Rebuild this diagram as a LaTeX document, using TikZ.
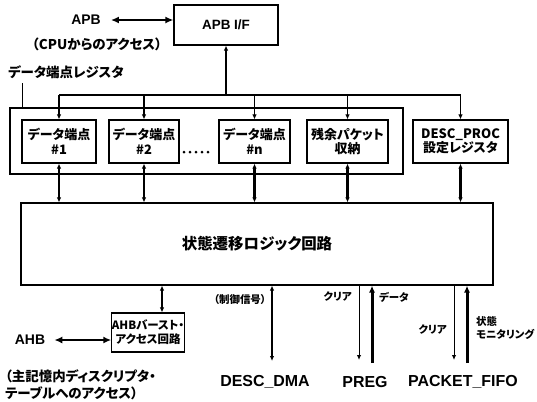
\documentclass[tikz,border=0pt]{standalone}
\usepackage{fontspec}
\usetikzlibrary{arrows.meta,calc}
\newfontfamily\jp{Noto Sans CJK JP}[RawFeature=+palt]
\newfontfamily\lat{Liberation Sans}
\tikzset{
  box/.style={draw, line width=1.2pt, fill=white, inner sep=1pt, align=center, font=\jp\bfseries\fontsize{13}{14.5}\selectfont},
  lbl/.style={inner sep=0pt, align=left, font=\jp\bfseries\fontsize{13.5}{18}\selectfont},
  sml/.style={inner sep=0pt, align=left, font=\jp\bfseries\fontsize{10.5}{14}\selectfont},
  big/.style={inner sep=0pt, font=\lat\bfseries\fontsize{16}{18}\selectfont},
  tip/.tip={Latex[length=5pt,width=4.5pt]},
  bigtip/.tip={Latex[length=8pt,width=7pt]},
  bus/.style={line width=1.8pt},
  bi/.style={line width=2.2pt, {tip}-{tip}},
  bibig/.style={line width=2.8pt, {bigtip}-{bigtip}},
  thin/.style={line width=1pt, -{tip}},
  thick/.style={line width=3pt, -{Latex[length=7pt,width=6pt]}},
}
\begin{document}
\begin{tikzpicture}[x=1bp,y=-1bp]
\useasboundingbox (0,0) rectangle (537,401);
% top
\node[box, minimum width=104bp, minimum height=40bp, font=\lat\bfseries\fontsize{13.5}{15}\selectfont] (apb) at (226,25) {APB I/F};
\node[lbl, font=\lat\bfseries\fontsize{14}{15}\selectfont] (apbt) at (86,20) {APB};
\draw[bibig] ($(apbt.east)+(10,0)$) -- (apbt.east -| apb.west);
\node[lbl] (cpu) at (97,44) {（CPUからのアクセス）};
\node[lbl] (regt) at (66,72) {データ端点レジスタ};
% register group
\node[draw, line width=1.2pt, minimum width=393bp, minimum height=66bp, inner sep=0pt] (regs) at (206.5,141) {};
\coordinate (tk) at (22,83);
\draw[line width=1pt] (tk) -- (tk |- regs.north);
\node[box, minimum width=74bp, minimum height=43bp] (d1) at (59,141.5) {データ端点\\\#1};
\node[box, minimum width=70bp, minimum height=43bp] (d2) at (144,141.5) {データ端点\\\#2};
\node[box, minimum width=71bp, minimum height=43bp] (dn) at (254.5,141.5) {データ端点\\\#n};
\node[box, minimum width=81bp, minimum height=43bp] (rp) at (347.5,141.5) {残余パケット\\収納};
\node[box, minimum width=95bp, minimum height=43bp] (dp) at (460.5,141.5) {DESC\_PROC\\設定レジスタ};
\foreach \x in {184,190,196,202,208} \fill (\x,152) circle (1.5bp);
% bus
\coordinate (busy) at (0,95);
\draw[bus, {tip}-] (apb.south) -- (apb.south |- busy);
\draw[bus] (d1.north |- busy) -- (dp.north |- busy);
\foreach \n in {d1,d2,dn,rp,dp} \draw[bus, -{tip}] (\n.north |- busy) -- (\n.north);
% logic
\node[box, minimum width=472bp, minimum height=82bp, font=\jp\bfseries\fontsize{15.5}{17}\selectfont] (lg) at (257,244) {状態遷移ロジック回路};
\foreach \n in {d1,d2,dn,rp,dp} \draw[bi] (\n.south) -- (\n.south |- lg.north);
% AHB
\node[box, minimum width=66bp, minimum height=39bp, inner sep=0pt, font=\jp\bfseries\fontsize{11.5}{14}\selectfont] (ahb) at (148,332.5) {AHBバースト・\\アクセス回路};
\coordinate (ax) at (162,0);
\draw[bi] (ax |- lg.south) -- (ax |- ahb.north);
\node[lbl, font=\lat\bfseries\fontsize{14}{15}\selectfont] (ahbt) at (30,340) {AHB};
\draw[bibig] ($(ahbt.east)+(9,0)$) -- (ahbt.east -| ahb.west);
\node[lbl, anchor=north west] (mem) at (5,369) {（主記憶内ディスクリプタ・\\テーブルへのアクセス）};
% bottom outputs
\node[big] (dma) at (265,382) {DESC\_DMA};
\node[big] (preg) at (365,382) {PREG};
\node[big] (fifo) at (463,382) {PACKET\_FIFO};
\coordinate (e1) at (272,361);
\draw[bi] (e1 |- lg.south) -- (e1);
\node[sml] (ctl) at (240,300) {（制御信号）};
\coordinate (e2) at (359,360);
\coordinate (e3) at (372,363);
\draw[thin] (e2 |- lg.south) -- (e2);
\draw[thick] (e3) -- (e3 |- lg.south);
\node[sml, anchor=east] (clr1) at (352,297) {クリア};
\node[sml, anchor=west] (dat) at (379,297) {データ};
\coordinate (e4) at (454,360);
\coordinate (e5) at (467,363);
\draw[thin] (e4 |- lg.south) -- (e4);
\draw[thick] (e5) -- (e5 |- lg.south);
\node[sml, anchor=east] (clr2) at (447,330) {クリア};
\node[sml, anchor=west] (mon) at (476,328) {状態\\モニタリング};
\end{tikzpicture}
\end{document}
